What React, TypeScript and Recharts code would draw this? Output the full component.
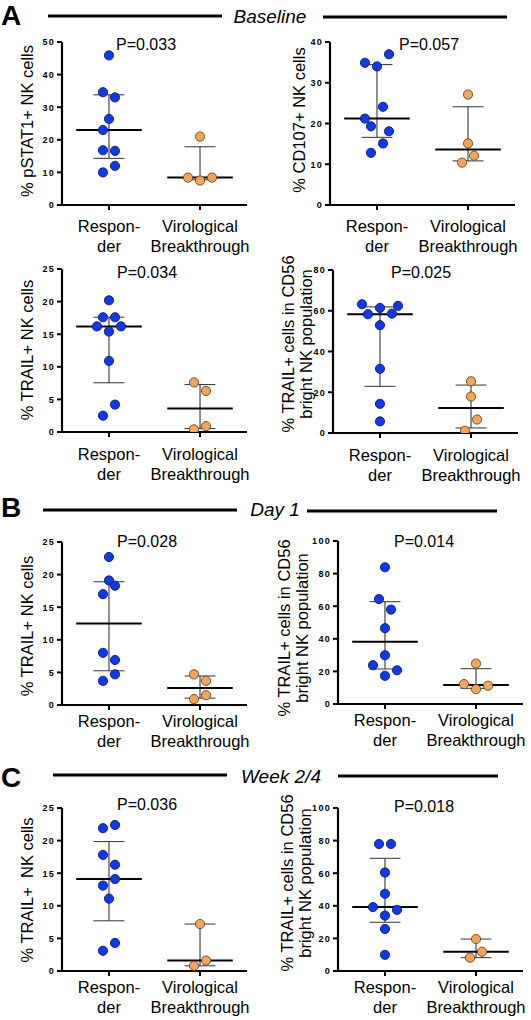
import { ScatterChart, Scatter, XAxis, YAxis, ReferenceLine } from 'recharts';

const FONT = '"Liberation Sans", Arial, Helvetica, sans-serif';
const BLUE = '#1238e8';
const BLUE_EDGE = '#0a1d7a';
const ORANGE = '#f2a55c';
const ORANGE_EDGE = '#6b4320';

const CATEGORY_LINES = [
  ['Respon-', 'der'],
  ['Virological', 'Breakthrough'],
];

const TICKS_25 = [0, 5, 10, 15, 20, 25];
const TICKS_40 = [0, 10, 20, 30, 40];
const TICKS_50 = [0, 10, 20, 30, 40, 50];
const TICKS_80 = [0, 20, 40, 60, 80];
const TICKS_100 = [0, 20, 40, 60, 80, 100];

// A - Baseline
const pstat1Responder = [45.9, 34.6, 33, 26.4, 23, 16.8, 16.6, 12, 10];
const pstat1Breakthrough = [21, 8.4, 7.5, 8.4];
const cd107Responder = [37, 34.9, 34, 24.1, 21.2, 19.3, 18.1, 15.1, 12.8];
const cd107Breakthrough = [27.1, 15.1, 12.1, 10.4];
const trailBaseResponder = [20.2, 17.6, 17.6, 16.2, 16.2, 15.4, 10.9, 4.2, 2.5];
const trailBaseBreakthrough = [7.6, 6.3, 0.9, 0.4];
const cd56BaseResponder = [63.2, 61.4, 62.4, 58.3, 58.6, 52.9, 31.5, 14.3, 5.7];
const cd56BaseBreakthrough = [25.4, 17.9, 6.6, 1.1];

// B - Day 1
const trailDay1Responder = [22.7, 19.1, 18.3, 17, 8, 6.9, 4.7, 3.7];
const trailDay1Breakthrough = [4.7, 3.7, 1.5, 0.9];
const cd56Day1Responder = [83.9, 64.4, 57.9, 46.5, 29.9, 23.8, 20.7, 17.3];
const cd56Day1Breakthrough = [24.8, 12.2, 11.2, 9.1];

// C - Week 2/4
const trailWeekResponder = [22.4, 21.9, 17.8, 16.3, 14.1, 13.1, 11.1, 4.3, 3.1];
const trailWeekBreakthrough = [7.2, 1.6, 0.8];
const cd56WeekResponder = [77.9, 77.9, 60.4, 47.4, 39.2, 37.5, 34, 25.8, 9.9];
const cd56WeekBreakthrough = [19.6, 11.8, 8.2];

// scatter lanes (left/right spread of overlapping dots), one per value above
const pstat1ResponderLanes = [0, -1, 1, 0, -1, -1, 1, 1, -1];
const pstat1BreakthroughLanes = [0, -2, 0, 2];
const cd107ResponderLanes = [2, -2, 0, 1, -2, -1, 2, 1, -1];
const cd107BreakthroughLanes = [0, 0, 1, -1];
const trailBaseResponderLanes = [0, -1, 1, -2, 2, 0, 0, 1, -1];
const trailBaseBreakthroughLanes = [-1, 1, 1, -1];
const cd56BaseResponderLanes = [-3, 0, 3, -2, 2, 0, 0, 0, 0];
const cd56BaseBreakthroughLanes = [0, 0, 1, -1];
const trailDay1ResponderLanes = [0, 0, 1, -1, -1, 1, 1, -1];
const trailDay1BreakthroughLanes = [-1, 1, 1, -1];
const cd56Day1ResponderLanes = [0, -1, 1, 0, 0, -2, 2, 0];
const cd56Day1BreakthroughLanes = [0, -2, 2, 0];
const trailWeekResponderLanes = [1, -1, -1, 1, 1, -1, 0, 1, -1];
const trailWeekBreakthroughLanes = [0, 1, -1];
const cd56WeekResponderLanes = [-1, 1, 0, 0, -2, 2, 0, 0, 0];
const cd56WeekBreakthroughLanes = [0, 1, -1];

const PLOT_W = 185;
const PLOT_H = 163;
const TOP_PAD = 10;
const X_AXIS_H = 60;
const X_DOMAIN = [0.484, 2.516];
const LANE = 0.066;
const MEDIAN_HALF = 0.36;
const CAP_HALF = 0.17;

type Panel = {
  yLabel: string[];
  p: string;
  responder: number[];
  responderLanes: number[];
  breakthrough: number[];
  breakthroughLanes: number[];
  ticks: number[];
  left: number;
  plotTop: number;
  axisWidth: number;
  tickGap: number;
  labelX: number;
  labelY: number;
  pX: number;
  pY: number;
};

const panels: Panel[] = [
  { yLabel: ['% pSTAT1+ NK cells'], p: 'P=0.033', responder: pstat1Responder, responderLanes: pstat1ResponderLanes, breakthrough: pstat1Breakthrough, breakthroughLanes: pstat1BreakthroughLanes, ticks: TICKS_50, left: 0, plotTop: 42, axisWidth: 62, tickGap: 27, labelX: 27, labelY: 121, pX: 146, pY: 50 },
  { yLabel: ['% CD107+ NK cells'], p: 'P=0.057', responder: cd107Responder, responderLanes: cd107ResponderLanes, breakthrough: cd107Breakthrough, breakthroughLanes: cd107BreakthroughLanes, ticks: TICKS_40, left: 265, plotTop: 42, axisWidth: 65, tickGap: 27, labelX: 299, labelY: 120, pX: 429, pY: 50 },
  { yLabel: ['% TRAIL+ NK cells'], p: 'P=0.034', responder: trailBaseResponder, responderLanes: trailBaseResponderLanes, breakthrough: trailBaseBreakthrough, breakthroughLanes: trailBaseBreakthroughLanes, ticks: TICKS_25, left: 0, plotTop: 269, axisWidth: 62, tickGap: 28, labelX: 27, labelY: 350, pX: 147, pY: 278 },
  { yLabel: ['% TRAIL+ cells in CD56', 'bright NK population'], p: 'P=0.025', responder: cd56BaseResponder, responderLanes: cd56BaseResponderLanes, breakthrough: cd56BaseBreakthrough, breakthroughLanes: cd56BaseBreakthroughLanes, ticks: TICKS_80, left: 265, plotTop: 270, axisWidth: 68, tickGap: 28, labelX: 297, labelY: 344, pX: 421, pY: 278 },
  { yLabel: ['% TRAIL+ NK cells'], p: 'P=0.028', responder: trailDay1Responder, responderLanes: trailDay1ResponderLanes, breakthrough: trailDay1Breakthrough, breakthroughLanes: trailDay1BreakthroughLanes, ticks: TICKS_25, left: 0, plotTop: 542, axisWidth: 62, tickGap: 22, labelX: 27, labelY: 626, pX: 147, pY: 547 },
  { yLabel: ['% TRAIL+ cells in CD56', 'bright NK population'], p: 'P=0.014', responder: cd56Day1Responder, responderLanes: cd56Day1ResponderLanes, breakthrough: cd56Day1Breakthrough, breakthroughLanes: cd56Day1BreakthroughLanes, ticks: TICKS_100, left: 265, plotTop: 541, axisWidth: 73, tickGap: 22, labelX: 293, labelY: 628, pX: 424, pY: 547 },
  { yLabel: ['% TRAIL+\u00a0 NK cells'], p: 'P=0.036', responder: trailWeekResponder, responderLanes: trailWeekResponderLanes, breakthrough: trailWeekBreakthrough, breakthroughLanes: trailWeekBreakthroughLanes, ticks: TICKS_25, left: 0, plotTop: 808, axisWidth: 62, tickGap: 22, labelX: 27, labelY: 890, pX: 147, pY: 810 },
  { yLabel: ['% TRAIL+ cells in CD56', 'bright NK population'], p: 'P=0.018', responder: cd56WeekResponder, responderLanes: cd56WeekResponderLanes, breakthrough: cd56WeekBreakthrough, breakthroughLanes: cd56WeekBreakthroughLanes, ticks: TICKS_100, left: 265, plotTop: 808, axisWidth: 73, tickGap: 22, labelX: 296, labelY: 883, pX: 424, pY: 812 },
];

const sections = [
  { letter: 'A', title: 'Baseline', y: 16, letterY: 25, titleX: 270, titleY: 23, line1: [48, 222], line2: [323, 507] },
  { letter: 'B', title: 'Day 1', y: 510, letterY: 517, titleX: 275, titleY: 516, line1: [43, 237], line2: [307, 497] },
  { letter: 'C', title: 'Week 2/4', y: 775, letterY: 787, titleX: 281, titleY: 783, line1: [53, 227], line2: [338, 498] },
];

// median / quartiles the way Prism does it: position p*(n+1)
const quantile = (values: number[], p: number) => {
  const s = [...values].sort((a, b) => a - b);
  const n = s.length;
  const pos = Math.min(Math.max(p * (n + 1), 1), n);
  const lo = Math.floor(pos);
  if (lo >= n) return s[n - 1];
  return s[lo - 1] + (pos - lo) * (s[lo] - s[lo - 1]);
};

const CategoryTick = (props: any) => {
  const { x, y, payload, gap } = props;
  const lines = CATEGORY_LINES[payload.value - 1];
  if (!lines) return null;
  return (
    <text x={x} y={y + gap - 7} textAnchor="middle" fontSize={16.5} fontFamily={FONT} fill="#000">
      <tspan x={x}>{lines[0]}</tspan>
      <tspan x={x} dy={20}>{lines[1]}</tspan>
    </text>
  );
};

const ValueTick = (props: any) => {
  const { x, y, payload } = props;
  return (
    <text x={x} y={y} dy={3.3} textAnchor="end" fontSize={9} fontWeight={700} fontFamily={FONT} fill="#000" style={{ letterSpacing: 1.3 }}>
      {payload.value}
    </text>
  );
};

const DotPanel = ({ panel }: { panel: Panel }) => {
  const groups = [
    { x: 1, values: panel.responder, lanes: panel.responderLanes, fill: BLUE, edge: BLUE_EDGE },
    { x: 2, values: panel.breakthrough, lanes: panel.breakthroughLanes, fill: ORANGE, edge: ORANGE_EDGE },
  ];
  const yMax = panel.ticks[panel.ticks.length - 1];
  const width = panel.axisWidth + PLOT_W + 8;

  const summaryLines = groups.flatMap((g) => {
    const med = quantile(g.values, 0.5);
    const q1 = quantile(g.values, 0.25);
    const q3 = quantile(g.values, 0.75);
    return [
      <ReferenceLine key={`w${g.x}`} segment={[{ x: g.x, y: q1 }, { x: g.x, y: q3 }]} stroke="#222" strokeWidth={1} />,
      <ReferenceLine key={`l${g.x}`} segment={[{ x: g.x - CAP_HALF, y: q1 }, { x: g.x + CAP_HALF, y: q1 }]} stroke="#333" strokeWidth={1} />,
      <ReferenceLine key={`u${g.x}`} segment={[{ x: g.x - CAP_HALF, y: q3 }, { x: g.x + CAP_HALF, y: q3 }]} stroke="#333" strokeWidth={1} />,
      <ReferenceLine key={`m${g.x}`} segment={[{ x: g.x - MEDIAN_HALF, y: med }, { x: g.x + MEDIAN_HALF, y: med }]} stroke="#000" strokeWidth={2} />,
    ];
  });

  return (
    <div style={{ position: 'absolute', left: panel.left, top: panel.plotTop - TOP_PAD }}>
      <ScatterChart
        width={width}
        height={TOP_PAD + PLOT_H + X_AXIS_H}
        margin={{ top: TOP_PAD, right: 8, bottom: 0, left: 0 }}
      >
        <XAxis
          type="number"
          dataKey="x"
          domain={X_DOMAIN}
          ticks={[1, 2]}
          allowDataOverflow
          height={X_AXIS_H}
          tickSize={5}
          tickLine={{ stroke: '#000', strokeWidth: 2 }}
          axisLine={{ stroke: '#000', strokeWidth: 2.2 }}
          tick={(p: any) => <CategoryTick {...p} gap={panel.tickGap} />}
        />
        <YAxis
          type="number"
          dataKey="y"
          domain={[0, yMax]}
          ticks={panel.ticks}
          allowDataOverflow
          width={panel.axisWidth}
          tickSize={5}
          tickLine={{ stroke: '#000', strokeWidth: 2 }}
          axisLine={{ stroke: '#000', strokeWidth: 2.2 }}
          tick={(p: any) => <ValueTick {...p} />}
        />
        {groups.map((g) => (
          <Scatter
            key={g.x}
            data={g.values.map((v, i) => ({ x: g.x + g.lanes[i] * LANE, y: v }))}
            isAnimationActive={false}
            shape={(s: any) => (
              <circle cx={s.cx} cy={s.cy} r={4.6} fill={g.fill} stroke={g.edge} strokeWidth={0.9} />
            )}
          />
        ))}
        {summaryLines}
      </ScatterChart>
    </div>
  );
};

const App = () => {
  return (
    <div style={{ position: 'absolute', left: 0, top: 0, width: 531, height: 1020, background: '#fff', fontFamily: FONT }}>
      <svg width={531} height={1020} style={{ position: 'absolute', left: 0, top: 0 }} fontFamily={FONT}>
        {sections.map((s) => (
          <g key={s.letter}>
            <text x={1} y={s.letterY} fontSize={28} fontWeight={700} fill="#000">{s.letter}</text>
            <line x1={s.line1[0]} x2={s.line1[1]} y1={s.y} y2={s.y} stroke="#000" strokeWidth={3} />
            <text x={s.titleX} y={s.titleY} textAnchor="middle" fontSize={19} fontStyle="italic" fill="#000">{s.title}</text>
            <line x1={s.line2[0]} x2={s.line2[1]} y1={s.y + 1} y2={s.y + 1} stroke="#000" strokeWidth={3} />
          </g>
        ))}
        {panels.map((p, i) => (
          <g key={i}>
            <text x={p.pX} y={p.pY} textAnchor="middle" fontSize={16} fill="#000">{p.p}</text>
            {p.yLabel.map((line, j) => (
              <text
                key={j}
                transform={`translate(${p.labelX + (j - (p.yLabel.length - 1) / 2) * 18},${p.labelY}) rotate(-90)`}
                textAnchor="middle"
                dominantBaseline="central"
                fontSize={16.5}
                fill="#000"
                style={{ whiteSpace: 'pre' }}
              >
                {line}
              </text>
            ))}
          </g>
        ))}
      </svg>
      {panels.map((p, i) => (
        <DotPanel key={i} panel={p} />
      ))}
    </div>
  );
};

export default App;
